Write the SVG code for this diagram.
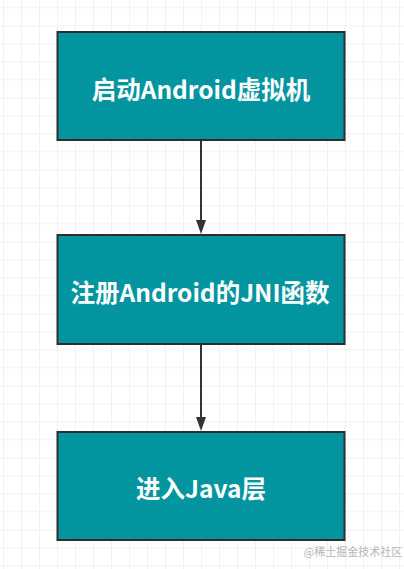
<svg xmlns="http://www.w3.org/2000/svg" width="404" height="569" viewBox="0 0 404 569">
<defs>
<pattern id="grid" x="3" y="7.3" width="18" height="18" patternUnits="userSpaceOnUse">
<path d="M0 0H18M0 0V18" fill="none" stroke="#e6e6e6" stroke-width="1"/>
</pattern>
</defs>
<style>
.box{fill:#02959f;stroke:#2d2d2d;stroke-width:2}
.lbl{font-family:"Noto Sans CJK SC","Noto Sans",sans-serif;font-weight:bold;font-size:24.5px;fill:#fff;text-anchor:middle;dominant-baseline:central}
.edge{stroke:#333;stroke-width:2;fill:none}
.head{fill:#333}
</style>
<rect width="404" height="569" fill="#fff"/>
<rect width="404" height="569" fill="url(#grid)"/>
<g id="connectors">
<line class="edge" x1="201" y1="140" x2="201" y2="220"/>
<path class="head" d="M196 220L206 220L201 234Z"/>
<line class="edge" x1="201" y1="344" x2="201" y2="417"/>
<path class="head" d="M196 417L206 417L201 431Z"/>
</g>
<g id="node1">
<rect class="box" x="57.5" y="32" width="287" height="108"/>
<text class="lbl" x="201" y="88">启动Android虚拟机</text>
</g>
<g id="node2">
<rect class="box" x="57.5" y="235" width="287" height="109"/>
<text class="lbl" x="200" y="291">注册Android的JNI函数</text>
</g>
<g id="node3">
<rect class="box" x="57.5" y="432" width="287" height="108"/>
<text class="lbl" x="201" y="487">进入Java层</text>
</g>
<text x="353" y="551" font-family="'Noto Sans CJK SC',sans-serif" font-size="11" fill="#b5b5b5" text-anchor="middle" dominant-baseline="central">@稀土掘金技术社区</text>
</svg>
